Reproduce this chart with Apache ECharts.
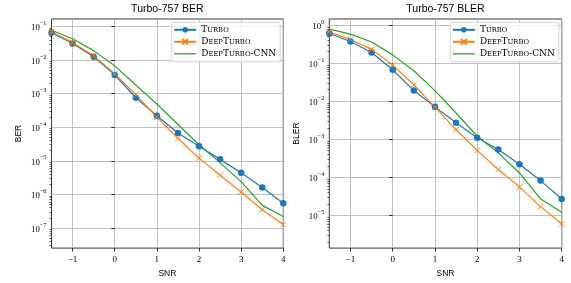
<!DOCTYPE html>
<html><head><meta charset="utf-8">
<script src="https://cdn.jsdelivr.net/npm/echarts@6/dist/echarts.min.js"></script>
<style>html,body{margin:0;padding:0;background:#fff}#c{width:571px;height:283px}</style>
</head><body><div id="c"></div>
<script>
// ---- data ----
const snr = [-1.5, -1, -0.5, 0, 0.5, 1, 1.5, 2, 2.5, 3, 3.5, 4];
const seriesNames = ['Turbo', 'DeepTurbo', 'DeepTurbo-CNN'];
const berTurbo = [0.065, 0.031, 0.0124, 0.0036, 7.5e-4, 2.2e-4, 6.7e-5, 2.7e-5, 1.1e-5, 4.4e-6, 1.6e-6, 5.4e-7];
const berDeep = [0.069, 0.033, 0.0134, 0.0039, 9.3e-4, 2.0e-4, 4.6e-5, 1.2e-5, 3.7e-6, 1.17e-6, 3.5e-7, 1.27e-7];
const berCnn = [0.077, 0.043, 0.019, 0.0067, 1.8e-3, 4.9e-4, 1.2e-4, 3.0e-5, 8.8e-6, 2.4e-6, 4.7e-7, 2.2e-7];
const blerTurbo = [0.60, 0.37, 0.19, 0.067, 0.019, 0.0071, 0.0027, 1.1e-3, 5.4e-4, 2.2e-4, 8.2e-5, 2.7e-5];
const blerDeep = [0.66, 0.42, 0.23, 0.089, 0.027, 0.007, 1.8e-3, 5.1e-4, 1.6e-4, 5.6e-5, 1.7e-5, 6e-6];
const blerCnn = [0.78, 0.58, 0.36, 0.165, 0.063, 0.019, 4.9e-3, 1.2e-3, 4.4e-4, 1.3e-4, 2.7e-5, 1.2e-5];
const xTicks = [-1, 0, 1, 2, 3, 4];
const berTicks = [1e-7, 1e-6, 1e-5, 1e-4, 1e-3, 1e-2, 1e-1];
const blerTicks = [1e-5, 1e-4, 1e-3, 1e-2, 1e-1, 1e0];
const berRange = [-7.6, -0.78];   // log10 extent
const blerRange = [-5.86, 0.16];

// ---- style ----
const SERIF = 'Liberation Serif', SANS = 'Liberation Sans', LEG = 'DejaVu Serif';
const BLUE = '#1f77b4', ORANGE = '#ff7f0e', GREEN = '#2ca02c';
const INK = '#000';
const X_MARK = 'path://M0,0L10,10M10,0L0,10';
const LINE_ICON = 'path://M0,0H22V1.3H0Z';

function pairs(ys) { return snr.map((x, i) => [x, ys[i]]); }
function fmtX(v) { return v < 0 ? '\u2212' + (-v) : '' + v; }
function fmtPow(v) {
  const n = Math.round(Math.log10(v));
  const s = n < 0 ? '\u2212' + (-n) : '' + n;
  return '{b|10}{e|' + s + '}';
}
function minorVals(lo, hi) {
  const out = [];
  for (let n = Math.floor(lo); n <= Math.ceil(hi); n++) {
    for (let k = 2; k <= 9; k++) {
      const v = k * Math.pow(10, n);
      const l = Math.log10(v);
      if (l > lo && l < hi) out.push(v);
    }
  }
  return out;
}
function smallCaps(s) {
  let out = '', cur = null, buf = '';
  for (const ch of s) {
    const isLower = ch >= 'a' && ch <= 'z';
    const t = isLower ? 's' : 'c';
    const c = isLower ? ch.toUpperCase() : ch;
    if (t !== cur) { if (buf) out += '{' + cur + '|' + buf + '}'; buf = ''; cur = t; }
    buf += c;
  }
  if (buf) out += '{' + cur + '|' + buf + '}';
  return out;
}

const tickLine = { color: INK, width: 0.8 };
const gridLine = { show: true, lineStyle: { color: '#b0b0b0', width: 0.8 } };

function xAx(gi) {
  return {
    type: 'value', gridIndex: gi, min: -1.5, max: 4,
    name: 'SNR', nameLocation: 'middle', nameGap: 19,
    nameTextStyle: { fontFamily: SANS, fontSize: 8.5, color: INK },
    axisLine: { show: false },
    axisTick: { show: true, customValues: xTicks, length: 3.5, lineStyle: tickLine },
    axisLabel: { customValues: xTicks, formatter: fmtX, fontFamily: SERIF, fontSize: 9, color: INK, margin: 7 },
    splitLine: gridLine
  };
}
function yAx(gi, rng, ticks, name) {
  return {
    type: 'log', logBase: 10, gridIndex: gi, position: 'left',
    min: Math.pow(10, rng[0]), max: Math.pow(10, rng[1]),
    name: name, nameLocation: 'middle', nameGap: 28,
    nameTextStyle: { fontFamily: SANS, fontSize: 8.5, color: INK },
    axisLine: { show: false },
    axisTick: { show: true, customValues: ticks, length: 3.5, lineStyle: tickLine },
    axisLabel: {
      customValues: ticks, formatter: fmtPow, margin: 5, color: INK,
      rich: {
        b: { fontFamily: SERIF, fontSize: 8.8, color: INK, lineHeight: 12, verticalAlign: 'bottom' },
        e: { fontFamily: SERIF, fontSize: 6.3, color: INK, lineHeight: 12, verticalAlign: 'top' }
      }
    },
    splitLine: gridLine,
    minorTick: { show: false }, minorSplitLine: { show: false }
  };
}
function yMinor(gi, rng) {
  return {
    type: 'log', logBase: 10, gridIndex: gi, position: 'left',
    min: Math.pow(10, rng[0]), max: Math.pow(10, rng[1]),
    axisLine: { show: false },
    axisTick: { show: true, customValues: minorVals(rng[0], rng[1]), length: 2, lineStyle: { color: INK, width: 0.6 } },
    axisLabel: { show: false },
    splitLine: { show: false }
  };
}
function mkLegend(left) {
  return {
    left: left, top: 22.3, orient: 'vertical',
    data: [{ name: seriesNames[0] }, { name: seriesNames[1] }, { name: seriesNames[2], icon: LINE_ICON }],
    itemWidth: 22, itemHeight: 7, itemGap: 3,
    padding: [3, 4, 3.5, 1.5],
    backgroundColor: 'rgba(255,255,255,0.8)', borderColor: '#cccccc', borderWidth: 0.8, borderRadius: 2,
    selectedMode: false,
    formatter: smallCaps,
    textStyle: {
      color: INK,
      rich: {
        c: { fontFamily: LEG, fontSize: 9, color: INK, lineHeight: 10 },
        s: { fontFamily: LEG, fontSize: 6.8, color: INK, lineHeight: 10 }
      }
    }
  };
}
function mkSeries(name, xi, yi, ys) {
  const base = {
    type: 'line', name: name, xAxisIndex: xi, yAxisIndex: yi, data: pairs(ys),
    animation: false, emphasis: { disabled: true }, clip: true, z: 3
  };
  if (name === 'Turbo') {
    return Object.assign(base, { symbol: 'circle', symbolSize: 6.5, showSymbol: true,
      itemStyle: { color: BLUE }, lineStyle: { color: BLUE, width: 1.2 } });
  } else if (name === 'DeepTurbo') {
    return Object.assign(base, { symbol: X_MARK, symbolSize: 5.5, showSymbol: true,
      itemStyle: { color: 'rgba(0,0,0,0)', borderColor: ORANGE, borderWidth: 1 }, lineStyle: { color: ORANGE, width: 1.2 } });
  }
  return Object.assign(base, { symbol: 'none', itemStyle: { color: GREEN }, lineStyle: { color: GREEN, width: 1.2 } });
}

const chart = echarts.init(document.getElementById('c'));
chart.setOption({
  animation: false,
  backgroundColor: '#fff',
  title: [
    { text: 'Turbo-757 BER', left: 167.4, top: 4, textAlign: 'center', padding: 0,
      textStyle: { fontFamily: SANS, fontSize: 10.5, fontWeight: 'normal', color: INK } },
    { text: 'Turbo-757 BLER', left: 445.5, top: 4, textAlign: 'center', padding: 0,
      textStyle: { fontFamily: SANS, fontSize: 10.5, fontWeight: 'normal', color: INK } }
  ],
  grid: [
    { left: 51.5, top: 19, width: 231.8, height: 238.3, show: true, borderColor: '#222', borderWidth: 0.9, backgroundColor: 'transparent' },
    { left: 329.3, top: 19, width: 232.4, height: 238.3, show: true, borderColor: '#222', borderWidth: 0.9, backgroundColor: 'transparent' }
  ],
  legend: [mkLegend(171.7), mkLegend(450.4)],
  xAxis: [xAx(0), xAx(1)],
  yAxis: [yAx(0, berRange, berTicks, 'BER'), yMinor(0, berRange), yAx(1, blerRange, blerTicks, 'BLER'), yMinor(1, blerRange)],
  series: [
    mkSeries('Turbo', 0, 0, berTurbo),
    mkSeries('DeepTurbo', 0, 0, berDeep),
    mkSeries('DeepTurbo-CNN', 0, 0, berCnn),
    mkSeries('Turbo', 1, 2, blerTurbo),
    mkSeries('DeepTurbo', 1, 2, blerDeep),
    mkSeries('DeepTurbo-CNN', 1, 2, blerCnn)
  ]
});
</script>
</body></html>
